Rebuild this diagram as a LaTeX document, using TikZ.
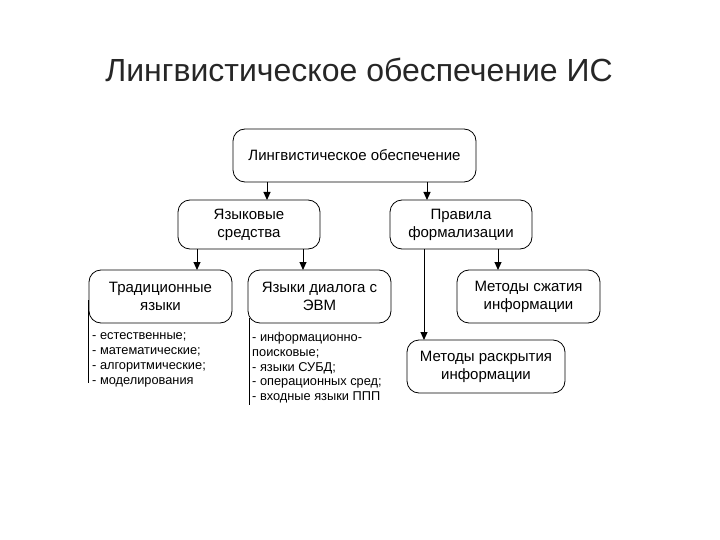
\documentclass[tikz,border=0pt]{standalone}
\usepackage{fontspec}
\setmainfont{Liberation Sans}
\usetikzlibrary{arrows.meta}
\begin{document}
\begin{tikzpicture}[x=1pt,y=-1pt,
  box/.style={draw,line width=0.8pt,rounded corners=12pt,align=center,font=\fontsize{15}{18}\selectfont,inner sep=0pt},
  arr/.style={-{Triangle[length=8pt,width=7pt]},line width=1pt},
  lst/.style={anchor=base west,font=\fontsize{12.8}{14}\selectfont,inner sep=0pt}]
\useasboundingbox (0,0) rectangle (720,540);
\node[font=\fontsize{32}{36}\selectfont,text=black!85] (title) at (359,70) {Лингвистическое обеспечение ИС};
\node[box,minimum width=243pt,minimum height=53pt] (top) at (354.5,155.5) {Лингвистическое обеспечение};
\node[box,minimum width=142pt,minimum height=49pt] (ls) at (249,224.5) {Языковые\\средства};
\node[box,minimum width=142pt,minimum height=49pt] (pf) at (461,224.5) {Правила\\формализации};
\node[box,minimum width=143pt,minimum height=53pt] (tr) at (160.5,296.5) {Традиционные\\языки};
\node[box,minimum width=143pt,minimum height=53pt] (ld) at (319.5,296.5) {Языки диалога с\\ЭВМ};
\node[box,minimum width=143pt,minimum height=53pt] (ms) at (528.5,296.5) {Методы сжатия\\информации};
\node[box,minimum width=158pt,minimum height=53pt] (mr) at (486,366.5) {Методы раскрытия\\информации};
\draw[arr] (267,182) -- (267,200);
\draw[arr] (427,182) -- (427,200);
\draw[arr] (197,249) -- (197,270);
\draw[arr] (303,249) -- (303,270);
\draw[arr] (498,249) -- (498,270);
\draw[arr] (424,249) -- (424,340);
\draw[line width=0.8pt] (88,300) -- (88,383);
\draw[line width=0.8pt] (249,318) -- (249,405);
\node[lst] (a1) at (92,339.5) {- естественные;};
\node[lst] (a2) at (92,354.5) {- математические;};
\node[lst] (a3) at (92,369.5) {- алгоритмические;};
\node[lst] (a4) at (92,384) {- моделирования};
\node[lst] (b1) at (252,341.5) {- информационно-};
\node[lst] (b2) at (252,356) {поисковые;};
\node[lst] (b3) at (252,371) {- языки СУБД;};
\node[lst] (b4) at (252,385.5) {- операционных сред;};
\node[lst] (b5) at (252,400) {- входные языки ППП};
\end{tikzpicture}
\end{document}
